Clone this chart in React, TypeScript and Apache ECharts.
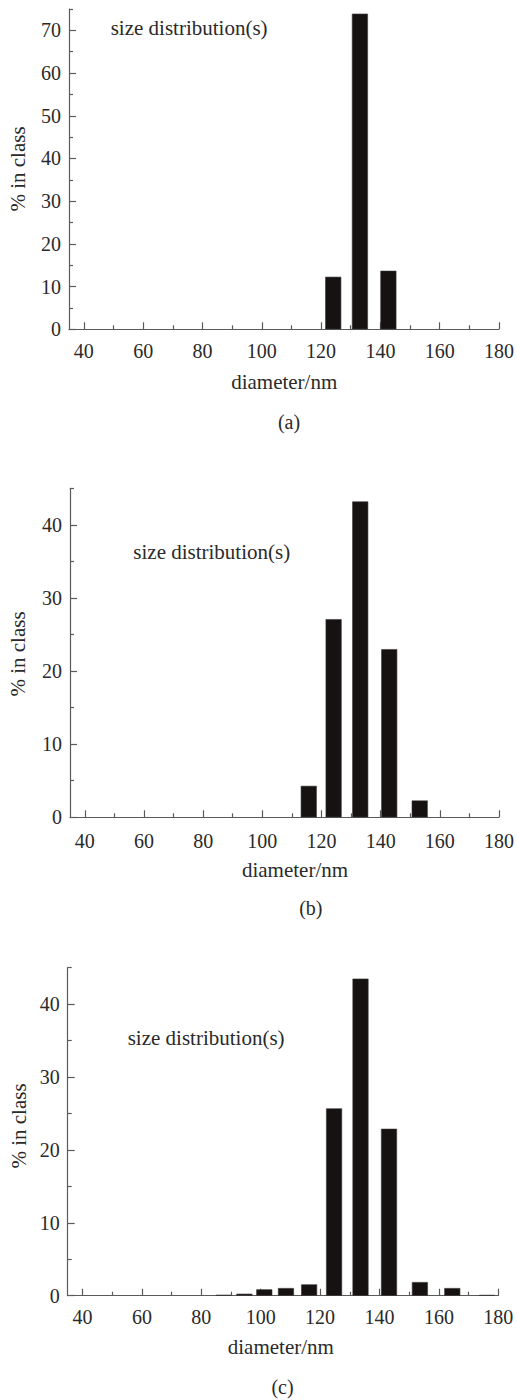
import React, { useEffect, useRef } from "react";
import * as echarts from "echarts";

const xMajorTicks = [40, 60, 80, 100, 120, 140, 160, 180];
const xMinorTicks = [50, 70, 90, 110, 130, 150, 170];

const yTicksA = [0, 10, 20, 30, 40, 50, 60, 70];
const yMinorA = [5, 15, 25, 35, 45, 55, 65, 75];
const yTicksBC = [0, 10, 20, 30, 40];
const yMinorBC = [5, 15, 25, 35, 45];

const diamA = [124.1, 133.1, 142.7];
const pctA = [12.3, 73.9, 13.7];

const diamB = [115.7, 124.1, 133.1, 142.9, 153.2];
const pctB = [4.3, 27.1, 43.2, 23.0, 2.3];

const diamC = [87.5, 94.5, 101.2, 108.5, 116.3, 124.7, 133.6, 143.2, 153.6, 164.5, 176.2];
const pctC = [0.12, 0.27, 0.87, 1.05, 1.55, 25.7, 43.5, 22.9, 1.87, 1.05, 0.1];

const panelLetters = ["(a)", "(b)", "(c)"];
const yTitle = "% in class";
const xTitle = "diameter/nm";
const noteText = "size distribution(s)";

const FONT = "Liberation Serif";
const TEXT = "#2a2a2a";
const AXIS = "#5a5a5a";
const BAR = "#161212";

export default function App() {
  const ref = useRef<HTMLDivElement>(null);
  useEffect(() => {
    if (!ref.current) return;
    const chart = echarts.init(ref.current, null, { renderer: "svg" });

    const panels = [
      { left: 69, right: 17, top: 9, height: 320.3, ymax: 75, yt: yTicksA, ym: yMinorA, xs: diamA, ys: pctA, lm: 12,
        note: [110.7, 28.3], xt: [284.2, 381.7], lt: [289, 421.7], yn: [18, 169] },
      { left: 70, right: 17, top: 488.3, height: 329, ymax: 45, yt: yTicksBC, ym: yMinorBC, xs: diamB, ys: pctB, lm: 14,
        note: [133.3, 551.7], xt: [295, 870], lt: [310.8, 908.3], yn: [18.3, 654] },
      { left: 67.7, right: 18.7, top: 967.7, height: 328, ymax: 45, yt: yTicksBC, ym: yMinorBC, xs: diamC, ys: pctC, lm: 11,
        note: [127.7, 1038], xt: [280.8, 1346.7], lt: [282.5, 1386.7], yn: [19, 1126] },
    ];

    const grid: any[] = [];
    const xAxis: any[] = [];
    const yAxis: any[] = [];
    const series: any[] = [];
    const graphic: any[] = [];

    panels.forEach((p, i) => {
      grid.push({ left: p.left, right: p.right, top: p.top, height: p.height, containLabel: false });
      xAxis.push({
        type: "value", gridIndex: i, min: 35, max: 180, position: "bottom",
        axisLine: { show: true, lineStyle: { color: AXIS, width: 1.2 } },
        axisTick: { show: true, inside: true, length: 7, customValues: xMajorTicks, lineStyle: { color: AXIS, width: 1.2 } },
        axisLabel: { show: true, customValues: xMajorTicks, margin: p.lm, color: TEXT, fontSize: 20, fontFamily: FONT },
        splitLine: { show: false },
      });
      xAxis.push({
        type: "value", gridIndex: i, min: 35, max: 180, position: "bottom",
        axisLine: { show: false },
        axisTick: { show: true, inside: true, length: 4, customValues: xMinorTicks, lineStyle: { color: AXIS, width: 1.2 } },
        axisLabel: { show: false },
        splitLine: { show: false },
      });
      yAxis.push({
        type: "value", gridIndex: i, min: 0, max: p.ymax, position: "left",
        axisLine: { show: true, lineStyle: { color: AXIS, width: 1.2 } },
        axisTick: { show: true, inside: true, length: 7, customValues: p.yt, lineStyle: { color: AXIS, width: 1.2 } },
        axisLabel: { show: true, customValues: p.yt, margin: 8, color: TEXT, fontSize: 20, fontFamily: FONT },
        splitLine: { show: false },
      });
      yAxis.push({
        type: "value", gridIndex: i, min: 0, max: p.ymax, position: "left",
        axisLine: { show: false },
        axisTick: { show: true, inside: true, length: 4, customValues: p.ym, lineStyle: { color: AXIS, width: 1.2 } },
        axisLabel: { show: false },
        splitLine: { show: false },
      });
      series.push({
        type: "bar",
        xAxisIndex: i * 2,
        yAxisIndex: i * 2,
        barWidth: 16,
        itemStyle: { color: BAR, borderColor: "#3a3636", borderWidth: 0.6 },
        data: p.xs.map((x, k) => [x, p.ys[k]]),
      });
      graphic.push({
        type: "text", x: p.note[0], y: p.note[1],
        style: { text: noteText, fontSize: 21, fontFamily: FONT, fill: TEXT, align: "left", verticalAlign: "middle" },
      });
      graphic.push({
        type: "text", x: p.xt[0], y: p.xt[1],
        style: { text: xTitle, fontSize: 21, fontFamily: FONT, fill: TEXT, align: "center", verticalAlign: "middle" },
      });
      graphic.push({
        type: "text", x: p.lt[0], y: p.lt[1],
        style: { text: panelLetters[i], fontSize: 20, fontFamily: FONT, fill: TEXT, align: "center", verticalAlign: "middle" },
      });
      graphic.push({
        type: "text", x: p.yn[0], y: p.yn[1], rotation: Math.PI / 2,
        style: { text: yTitle, fontSize: 21, fontFamily: FONT, fill: TEXT, align: "center", verticalAlign: "middle" },
      });
    });

    chart.setOption({
      animation: false,
      backgroundColor: "#ffffff",
      grid,
      xAxis,
      yAxis,
      series,
      graphic,
    });
    return () => chart.dispose();
  }, []);

  return (
    <div
      ref={ref}
      style={{ position: "absolute", left: 0, top: 0, width: 517, height: 1400, background: "#fff" }}
    />
  );
}
